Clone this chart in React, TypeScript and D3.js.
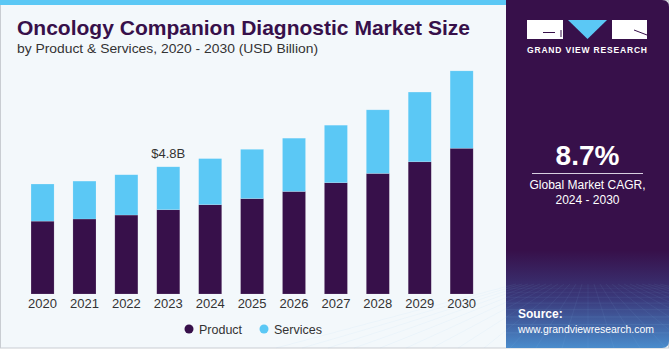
import React, { useRef, useEffect } from 'react';
import * as d3 from 'd3';

const years = ['2020', '2021', '2022', '2023', '2024', '2025', '2026', '2027', '2028', '2029', '2030'];
const productValues = [2.75, 2.83, 2.98, 3.18, 3.37, 3.6, 3.87, 4.2, 4.55, 4.99, 5.5];
const servicesValues = [1.4, 1.43, 1.52, 1.62, 1.74, 1.86, 2.01, 2.17, 2.4, 2.63, 2.92];
const seriesNames = ['Product', 'Services'];
const seriesColors = ['#37104a', '#5bc8f5'];
const highlightYear = '2023';
const highlightLabel = '$4.8B';

const W = 670;
const H = 350;
const PANEL_X = 506;
const FONT = "'Liberation Sans', Arial, sans-serif";

export default function App() {
  const svgRef = useRef<SVGSVGElement>(null);

  useEffect(() => {
    const svg = d3.select(svgRef.current);
    svg.selectAll('*').remove();

    const defs = svg.append('defs');
    const grad = defs.append('linearGradient')
      .attr('id', 'panelGrad').attr('x1', 0).attr('y1', 0).attr('x2', 0).attr('y2', 1);
    grad.append('stop').attr('offset', '0%').attr('stop-color', '#37104a');
    grad.append('stop').attr('offset', '72%').attr('stop-color', '#37104a');
    grad.append('stop').attr('offset', '86%').attr('stop-color', '#3a3a7c');
    grad.append('stop').attr('offset', '100%').attr('stop-color', '#4a8ccc');

    // card background
    svg.append('rect').attr('x', 0.5).attr('y', 0.5).attr('width', W - 2).attr('height', H - 2.5)
      .attr('fill', '#f3f8fb').attr('stroke', '#c9cdd2');
    svg.append('rect').attr('x', 0).attr('y', 0).attr('width', PANEL_X).attr('height', 5)
      .attr('fill', '#5bc8f5');

    // title
    svg.append('text').attr('x', 17).attr('y', 35)
      .attr('font-family', FONT).attr('font-weight', 700).attr('font-size', 21)
      .attr('fill', '#37104a')
      .attr('textLength', 453).attr('lengthAdjust', 'spacingAndGlyphs')
      .text('Oncology Companion Diagnostic Market Size');
    svg.append('text').attr('x', 17).attr('y', 53)
      .attr('font-family', FONT).attr('font-size', 13.5).attr('fill', '#333')
      .attr('textLength', 301).attr('lengthAdjust', 'spacingAndGlyphs')
      .text('by Product & Services, 2020 - 2030 (USD Billion)');

    // scales
    const x = d3.scaleBand<string>().domain(years).range([21.6, 482.6])
      .paddingInner(0.45).paddingOuter(0.225);
    const y = d3.scaleLinear().domain([0, 9]).range([294, 294 - 26.5 * 9]);

    const table = years.map((yr, i) => ({ year: yr, Product: productValues[i], Services: servicesValues[i] }));
    const stacked = d3.stack<any>().keys(seriesNames)(table);

    svg.append('g').selectAll('g').data(stacked).join('g')
      .attr('fill', (_d, i) => seriesColors[i])
      .selectAll('rect').data(d => d).join('rect')
      .attr('x', d => x(d.data.year)!)
      .attr('y', d => y(d[1]))
      .attr('width', x.bandwidth())
      .attr('height', d => y(d[0]) - y(d[1]))
      .attr('stroke', 'rgba(255,255,255,0.25)').attr('stroke-width', 0.6);

    // x axis labels
    svg.append('g').selectAll('text').data(years).join('text')
      .attr('x', d => x(d)! + x.bandwidth() / 2).attr('y', 308)
      .attr('text-anchor', 'middle').attr('font-family', FONT).attr('font-size', 13)
      .attr('fill', '#333').text(d => d);

    // highlight label
    const hi = years.indexOf(highlightYear);
    svg.append('text')
      .attr('x', x(highlightYear)! + x.bandwidth() / 2)
      .attr('y', y(productValues[hi] + servicesValues[hi]) - 9)
      .attr('text-anchor', 'middle').attr('font-family', FONT).attr('font-size', 13)
      .attr('fill', '#333').text(highlightLabel);

    // legend
    const legendX = [189, 264];
    seriesNames.forEach((name, i) => {
      svg.append('circle').attr('cx', legendX[i]).attr('cy', 329).attr('r', 4.5).attr('fill', seriesColors[i]);
      svg.append('text').attr('x', legendX[i] + 10).attr('y', 333.5)
        .attr('font-family', FONT).attr('font-size', 12.5).attr('fill', '#333').text(name);
    });

    // right panel
    const p = svg.append('g');
    p.append('path')
      .attr('d', `M${PANEL_X},0 H${W - 8} Q${W - 1},0 ${W - 1},7 V${H - 9} Q${W - 1},${H - 2} ${W - 8},${H - 2} H${PANEL_X} Z`)
      .attr('fill', 'url(#panelGrad)');

    // perspective grid at the bottom of panel
    const grid = p.append('g').attr('stroke', '#8fc4ee').attr('stroke-width', 0.5).attr('fill', 'none');
    d3.range(0, 9).forEach(k => {
      const yy = 286 + Math.pow(k, 1.45) * 2.3;
      grid.append('line').attr('x1', PANEL_X).attr('x2', W - 1).attr('y1', yy).attr('y2', yy)
        .attr('stroke-opacity', 0.08 + k * 0.025);
    });
    d3.range(-12, 13).forEach(k => {
      grid.append('line').attr('x1', 588 + k * 6).attr('y1', 284).attr('x2', 588 + k * 26).attr('y2', H - 2)
        .attr('stroke-opacity', 0.15);
    });

    // logo
    const logo = p.append('g');
    logo.append('rect').attr('x', 527).attr('y', 20).attr('width', 36).attr('height', 19).attr('fill', '#fff');
    logo.append('path').attr('d', 'M543,32.5 H555 M561,30 V37').attr('stroke', '#37104a').attr('stroke-width', 1);
    logo.append('path').attr('d', 'M568,20 H607 L587.5,39 Z').attr('fill', '#5bc8f5');
    logo.append('rect').attr('x', 612).attr('y', 20).attr('width', 35).attr('height', 19).attr('fill', '#fff');
    logo.append('path').attr('d', 'M634,30 L647,35').attr('stroke', '#37104a').attr('stroke-width', 1);
    p.append('text').attr('x', 587).attr('y', 53).attr('text-anchor', 'middle')
      .attr('font-family', FONT).attr('font-weight', 700).attr('font-size', 8.5).attr('fill', '#fff')
      .attr('textLength', 120).attr('lengthAdjust', 'spacing')
      .text('GRAND VIEW RESEARCH');

    // CAGR
    p.append('text').attr('x', 587.5).attr('y', 165).attr('text-anchor', 'middle')
      .attr('font-family', FONT).attr('font-weight', 700).attr('font-size', 28).attr('fill', '#fff')
      .text('8.7%');
    p.append('line').attr('x1', 532).attr('x2', 643).attr('y1', 173.5).attr('y2', 173.5)
      .attr('stroke', '#d8cfe0').attr('stroke-width', 1);
    p.append('text').attr('x', 587.5).attr('y', 189).attr('text-anchor', 'middle')
      .attr('font-family', FONT).attr('font-size', 12).attr('fill', '#fff')
      .text('Global Market CAGR,');
    p.append('text').attr('x', 587.5).attr('y', 204).attr('text-anchor', 'middle')
      .attr('font-family', FONT).attr('font-size', 12).attr('fill', '#fff')
      .text('2024 - 2030');

    // source
    p.append('text').attr('x', 518).attr('y', 318)
      .attr('font-family', FONT).attr('font-weight', 700).attr('font-size', 12).attr('fill', '#fff')
      .text('Source:');
    p.append('text').attr('x', 518).attr('y', 333)
      .attr('font-family', FONT).attr('font-size', 11.5).attr('fill', '#fff')
      .attr('textLength', 136).attr('lengthAdjust', 'spacingAndGlyphs')
      .text('www.grandviewresearch.com');
  }, []);

  return (
    <div style={{ position: 'fixed', left: 0, top: 0, width: W, height: H, background: '#fff' }}>
      <svg ref={svgRef} width={W} height={H} viewBox={`0 0 ${W} ${H}`} style={{ display: 'block' }} />
    </div>
  );
}
